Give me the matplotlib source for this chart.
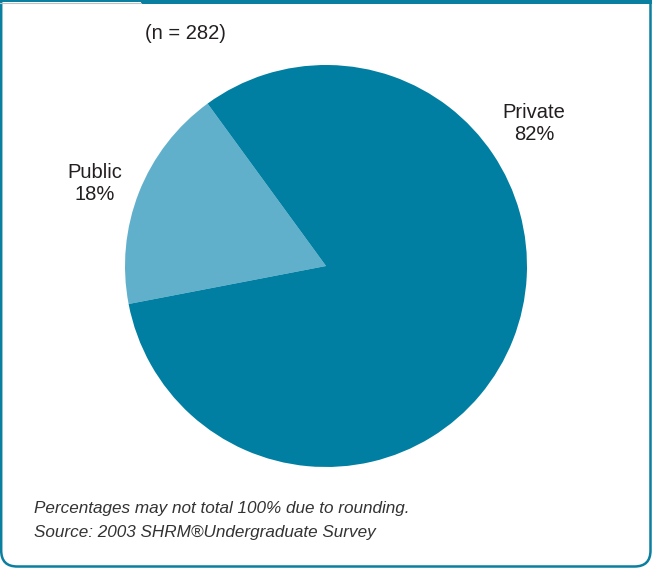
import matplotlib
matplotlib.use("Agg")
import matplotlib.pyplot as plt
from matplotlib.path import Path
from matplotlib.patches import PathPatch

# Survey data: type of institution
categories = ["Public", "Private"]
shares = [18, 82]
sample_note = "(n = 282)"
footnotes = ["Percentages may not total 100% due to rounding.",
             "Source: 2003 SHRM\u00aeUndergraduate Survey"]

colors = ["#60b0cc", "#007fa2"]
frame_color = "#0a7fa0"
text_color = "#231f20"
label_font = ["Liberation Sans", "DejaVu Sans"]

W, H = 652, 569
fig = plt.figure(figsize=(W / 100, H / 100), dpi=100)
ax = fig.add_axes([0, 0, 1, 1])
ax.set_xlim(0, W)
ax.set_ylim(0, H)
ax.set_aspect("equal")
ax.axis("off")

# Pie
cx, cy, r = 326, H - 266, 201
ax.pie(shares, colors=colors, startangle=126.1, counterclock=True,
       center=(cx, cy), radius=r, wedgeprops=dict(linewidth=0))
ax.set_xlim(0, W)
ax.set_ylim(0, H)

# Slice labels
label_pos = {"Public": (95, H - 183), "Private": (534, H - 123)}
for cat, val in zip(categories, shares):
    x, y = label_pos[cat]
    ax.text(x, y, f"{cat}\n{val}%", ha="center", va="center",
            fontsize=14.5, family=label_font, color=text_color,
            linespacing=1.2)

ax.text(185, H - 33, sample_note, ha="center", va="center",
        fontsize=14.5, family=label_font, color=text_color)

for i, line in enumerate(footnotes):
    ax.text(34, H - 508 - i * 24, line, ha="left", va="center",
            fontsize=12.3, style="italic", family=label_font, color="#333333")

# Frame: square top, rounded bottom corners
left, right, bottom, top, rad = 1.2, 650.5, 2.5, H, 16
verts = [(left, top), (left, bottom + rad), (left, bottom), (left + rad, bottom),
         (right - rad, bottom), (right, bottom), (right, bottom + rad), (right, top)]
codes = [Path.MOVETO, Path.LINETO, Path.CURVE3, Path.CURVE3,
         Path.LINETO, Path.CURVE3, Path.CURVE3, Path.LINETO]
ax.add_patch(PathPatch(Path(verts, codes), facecolor="none",
                       edgecolor=frame_color, linewidth=1.8, clip_on=False))

# Top bar
ax.fill_between([0, 141], H - 2.3, H, color=frame_color, linewidth=0)
ax.plot([0, 141], [H - 2.8, H - 2.8], color="#b8c4c8", linewidth=0.8)
ax.fill_between([141, W], H - 3.8, H, color=frame_color, linewidth=0)

fig.savefig("out.png", dpi=100)
